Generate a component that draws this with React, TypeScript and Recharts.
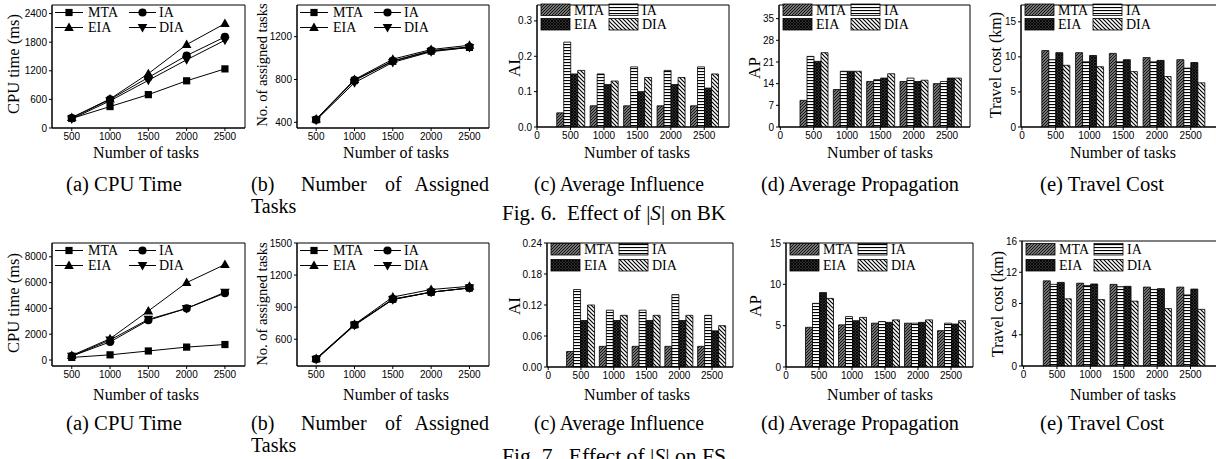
import React from 'react';
import { LineChart, Line, BarChart, Bar, XAxis, YAxis, ReferenceArea } from 'recharts';

// ---------- data ----------
const TASKS = [500, 1000, 1500, 2000, 2500];
const BAR_TICKS = [0, 500, 1000, 1500, 2000, 2500];
const SERIES = ['MTA', 'IA', 'EIA', 'DIA'];

// Fig. 6 (BK)
const bkCpuMTA = [200, 450, 700, 990, 1240];
const bkCpuIA = [210, 600, 1060, 1520, 1910];
const bkCpuEIA = [220, 610, 1140, 1750, 2190];
const bkCpuDIA = [190, 570, 1000, 1430, 1840];

const bkAsgMTA = [425, 790, 970, 1065, 1100];
const bkAsgIA = [425, 795, 975, 1070, 1105];
const bkAsgEIA = [430, 800, 990, 1080, 1120];
const bkAsgDIA = [420, 770, 960, 1060, 1100];

const bkAiMTA = [0.04, 0.06, 0.06, 0.06, 0.06];
const bkAiIA = [0.24, 0.15, 0.17, 0.16, 0.17];
const bkAiEIA = [0.15, 0.12, 0.10, 0.12, 0.11];
const bkAiDIA = [0.16, 0.13, 0.14, 0.14, 0.15];

const bkApMTA = [8.6, 12.1, 14.7, 14.7, 14.0];
const bkApIA = [22.8, 18.0, 15.3, 15.8, 14.7];
const bkApEIA = [21.2, 18.0, 15.8, 14.7, 15.8];
const bkApDIA = [24.0, 18.0, 17.2, 15.1, 15.8];

const bkTcMTA = [10.9, 10.6, 10.5, 9.9, 9.6];
const bkTcIA = [9.6, 9.3, 9.3, 9.3, 8.4];
const bkTcEIA = [10.6, 10.2, 9.6, 9.5, 9.2];
const bkTcDIA = [8.8, 8.6, 7.9, 7.2, 6.3];

// Fig. 7 (FS)
const fsCpuMTA = [200, 400, 700, 1000, 1200];
const fsCpuIA = [300, 1400, 3080, 4000, 5180];
const fsCpuEIA = [350, 1650, 3800, 6000, 7400];
const fsCpuDIA = [300, 1550, 3150, 4000, 5250];

const fsAsgMTA = [415, 735, 975, 1040, 1080];
const fsAsgIA = [415, 735, 975, 1040, 1080];
const fsAsgEIA = [420, 740, 995, 1065, 1095];
const fsAsgDIA = [410, 730, 970, 1040, 1080];

const fsAiMTA = [0.03, 0.04, 0.04, 0.04, 0.04];
const fsAiIA = [0.15, 0.11, 0.11, 0.14, 0.10];
const fsAiEIA = [0.09, 0.09, 0.09, 0.09, 0.07];
const fsAiDIA = [0.12, 0.10, 0.10, 0.10, 0.08];

const fsApMTA = [4.8, 5.1, 5.3, 5.3, 4.4];
const fsApIA = [7.7, 6.1, 5.5, 5.3, 5.3];
const fsApEIA = [9.0, 5.6, 5.4, 5.4, 5.2];
const fsApDIA = [8.3, 6.0, 5.7, 5.7, 5.6];

const fsTcMTA = [10.9, 10.6, 10.45, 10.1, 10.1];
const fsTcIA = [10.45, 10.3, 10.15, 9.8, 9.1];
const fsTcEIA = [10.7, 10.5, 10.2, 9.9, 9.85];
const fsTcDIA = [8.6, 8.5, 8.3, 7.35, 7.25];

const CPU_TICKS_BK = [0, 600, 1200, 1800, 2400];
const ASG_TICKS_BK = [400, 800, 1200];
const AI_TICKS_BK = [0, 0.1, 0.2, 0.3];
const AP_TICKS_BK = [0, 7, 14, 21, 28, 35];
const TC_TICKS_BK = [0, 5, 10, 15];
const CPU_TICKS_FS = [0, 2000, 4000, 6000, 8000];
const ASG_TICKS_FS = [600, 900, 1200, 1500];
const AI_TICKS_FS = [0, 0.06, 0.12, 0.18, 0.24];
const AP_TICKS_FS = [0, 5, 10, 15];
const TC_TICKS_FS = [0, 4, 8, 12, 16];

// ---------- helpers ----------
const SERIF = '"Liberation Serif", "Times New Roman", Times, serif';
const SANS = '"Liberation Sans", Arial, Helvetica, sans-serif';
const TICK = { fontSize: 10, fill: '#000', fontFamily: SANS };
const AX = { stroke: '#000', strokeWidth: 1 };
const YW = 46;
const XH = 24;
const MT = 4;
const MR = 4;

type Rect = { l: number; t: number; r: number; b: number };

const rows = (m: number[], i: number[], e: number[], d: number[]) =>
  TASKS.map((t, k) => ({ t, MTA: m[k], IA: i[k], EIA: e[k], DIA: d[k] }));

const SHAPES: Record<string, string> = { MTA: 'square', IA: 'circle', EIA: 'up', DIA: 'down' };

function marker(shape: string, cx: number, cy: number, key?: string) {
  if (shape === 'square') return <rect key={key} x={cx - 3.6} y={cy - 3.6} width={7.2} height={7.2} fill="#000" />;
  if (shape === 'circle') return <circle key={key} cx={cx} cy={cy} r={4.1} fill="#000" />;
  if (shape === 'up')
    return <path key={key} d={`M${cx},${cy - 5} L${cx + 4.8},${cy + 3.5} L${cx - 4.8},${cy + 3.5} Z`} fill="#000" />;
  return <path key={key} d={`M${cx},${cy + 5} L${cx + 4.8},${cy - 3.5} L${cx - 4.8},${cy - 3.5} Z`} fill="#000" />;
}

function patternDefs(p: string) {
  return (
    <defs>
      <pattern id={`${p}MTA`} width={3} height={3} patternUnits="userSpaceOnUse">
        <rect width={3} height={3} fill="#737373" />
        <path d="M0,3 L3,0 M-1,1 L1,-1 M2,4 L4,2" stroke="#141414" strokeWidth={1} />
      </pattern>
      <pattern id={`${p}IA`} width={3} height={3} patternUnits="userSpaceOnUse">
        <rect width={3} height={3} fill="#fff" />
        <rect y={1} width={3} height={1.1} fill="#000" />
      </pattern>
      <pattern id={`${p}EIA`} width={3} height={3} patternUnits="userSpaceOnUse">
        <rect width={3} height={3} fill="#2e2e2e" />
        <path d="M0,3 L3,0 M0,0 L3,3" stroke="#000" strokeWidth={0.8} />
      </pattern>
      <pattern id={`${p}DIA`} width={4} height={4} patternUnits="userSpaceOnUse">
        <rect width={4} height={4} fill="#fff" />
        <path d="M0,0 L4,4 M-1,3 L1,5 M3,-1 L5,1" stroke="#000" strokeWidth={1.2} />
      </pattern>
    </defs>
  );
}

type PlotProps = {
  rect: Rect;
  data: any[];
  xDomain: [number, number];
  yDomain: [number, number];
  yTicks: number[];
  fmt?: (v: number) => string;
  pid?: string;
};

function LinePlot({ rect, data, xDomain, yDomain, yTicks, fmt }: PlotProps) {
  const w = YW + (rect.r - rect.l) + MR;
  const h = MT + (rect.b - rect.t) + XH;
  return (
    <div style={{ position: 'absolute', left: rect.l - YW, top: rect.t - MT, width: w, height: h }}>
      <LineChart width={w} height={h} data={data} margin={{ top: MT, right: MR, bottom: 0, left: 0 }}>
        <XAxis dataKey="t" type="number" domain={xDomain} ticks={TASKS} interval={0} allowDataOverflow
          height={XH} tickSize={3} tick={TICK} axisLine={AX} tickLine={AX} />
        <YAxis type="number" domain={yDomain} ticks={yTicks} interval={0} allowDataOverflow width={YW}
          tickSize={3} tick={TICK} axisLine={AX} tickLine={AX} tickFormatter={fmt} />
        <ReferenceArea x1={xDomain[0]} x2={xDomain[1]} y1={yDomain[0]} y2={yDomain[1]}
          fill="none" stroke="#000" strokeWidth={1} fillOpacity={0} />
        {SERIES.map((s) => (
          <Line key={s} dataKey={s} type="linear" stroke="#000" strokeWidth={1} isAnimationActive={false}
            dot={(p: any) => marker(SHAPES[s], p.cx, p.cy, `${s}-${p.index}`)} activeDot={false} />
        ))}
      </LineChart>
    </div>
  );
}

function BarPlot({ rect, data, xDomain, yDomain, yTicks, fmt, pid }: PlotProps) {
  const w = YW + (rect.r - rect.l) + MR;
  const h = MT + (rect.b - rect.t) + XH;
  return (
    <div style={{ position: 'absolute', left: rect.l - YW, top: rect.t - MT, width: w, height: h }}>
      <BarChart width={w} height={h} data={data} margin={{ top: MT, right: MR, bottom: 0, left: 0 }} barGap={0}>
        {patternDefs(pid || 'p')}
        <XAxis dataKey="t" type="number" domain={xDomain} ticks={BAR_TICKS} interval={0} allowDataOverflow
          height={XH} tickSize={3} tick={TICK} axisLine={AX} tickLine={AX} />
        <YAxis type="number" domain={yDomain} ticks={yTicks} interval={0} allowDataOverflow width={YW}
          tickSize={3} tick={TICK} axisLine={AX} tickLine={AX} tickFormatter={fmt} />
        {SERIES.map((s) => (
          <Bar key={s} dataKey={s} fill={`url(#${pid}${s})`} stroke="#000" strokeWidth={0.8} barSize={7}
            isAnimationActive={false} />
        ))}
        <ReferenceArea x1={xDomain[0]} x2={xDomain[1]} y1={yDomain[0]} y2={yDomain[1]}
          fill="none" stroke="#000" strokeWidth={1} fillOpacity={0} />
      </BarChart>
    </div>
  );
}

// ---------- overlay text / legends ----------
function LineLegend({ l, t }: { l: number; t: number }) {
  const cols = [
    { s0: l + 3, s1: l + 31, tx: l + 36 },
    { s0: l + 77, s1: l + 104, tx: l + 107 },
  ];
  const ys = [t + 7.5, t + 22.5];
  const grid = [['MTA', 'IA'], ['EIA', 'DIA']];
  return (
    <g>
      {grid.map((row, ri) =>
        row.map((name, ci) => {
          const c = cols[ci];
          const y = ys[ri];
          return (
            <g key={name}>
              <line x1={c.s0} x2={c.s1} y1={y} y2={y} stroke="#000" strokeWidth={1} />
              {marker(SHAPES[name], (c.s0 + c.s1) / 2, y)}
              <text x={c.tx} y={y + 4.8} fontFamily={SERIF} fontSize={14} fill="#000">{name}</text>
            </g>
          );
        })
      )}
    </g>
  );
}

function BarLegend({ l, rowsY }: { l: number; rowsY: number[] }) {
  const cols = [
    { bx: l + 4, tx: l + 37 },
    { bx: l + 72, tx: l + 105 },
  ];
  const grid = [['MTA', 'IA'], ['EIA', 'DIA']];
  return (
    <g>
      {grid.map((row, ri) =>
        row.map((name, ci) => {
          const c = cols[ci];
          const y = rowsY[ri];
          return (
            <g key={name}>
              <rect x={c.bx} y={y} width={29} height={11.5} fill={`url(#lg${name})`} stroke="#000" strokeWidth={0.8} />
              <text x={c.tx} y={y + 10.8} fontFamily={SERIF} fontSize={14} fill="#000">{name}</text>
            </g>
          );
        })
      )}
    </g>
  );
}

function VText({ x, y, text, size }: { x: number; y: number; text: string; size: number }) {
  return (
    <text x={x} y={y} transform={`rotate(-90 ${x} ${y})`} textAnchor="middle" dominantBaseline="central"
      fontFamily={SERIF} fontSize={size} fill="#000">{text}</text>
  );
}

function HText({ x, y, text, size, anchor = 'middle', len }: { x: number; y: number; text: string; size: number; anchor?: string; len?: number }) {
  return (
    <text x={x} y={y} textAnchor={anchor as any} fontFamily={SERIF} fontSize={size} fill="#000"
      textLength={len} lengthAdjust={len ? 'spacingAndGlyphs' : undefined}>{text}</text>
  );
}

function Captions({ dy, fig, ds, figY }: { dy: number; fig: string; ds: string; figY: number }) {
  const yb = 191 + dy;
  const fs = 20;
  return (
    <g>
      <HText x={124} y={yb} text="(a) CPU Time" size={fs} len={116} />
      <HText x={251} y={yb} text="(b)" size={fs} anchor="start" />
      <HText x={301} y={yb} text="Number" size={fs} anchor="start" />
      <HText x={385} y={yb} text="of" size={fs} anchor="start" />
      <HText x={489} y={yb} text="Assigned" size={fs} anchor="end" />
      <HText x={251} y={yb + 22} text="Tasks" size={fs} anchor="start" />
      <HText x={619} y={yb} text="(c) Average Influence" size={fs} len={170} />
      <HText x={860} y={yb} text="(d) Average Propagation" size={fs} len={198} />
      <HText x={1102} y={yb} text="(e) Travel Cost" size={fs} len={124} />
      <text x={614} y={figY} textAnchor="middle" fontFamily={SERIF} fontSize={20.5} fill="#000"
        textLength={224} lengthAdjust="spacingAndGlyphs">
        {`Fig. ${fig}.\u00a0\u00a0Effect of |`}
        <tspan fontStyle="italic">S</tspan>
        {`| on ${ds}`}
      </text>
    </g>
  );
}

function Overlay() {
  const xt = [146, 396, 637, 880, 1123];
  return (
    <svg width={1216} height={459} style={{ position: 'absolute', left: 0, top: 0, pointerEvents: 'none' }}>
      {patternDefs('lg')}
      {/* axis titles, top row */}
      <VText x={13} y={64} text="CPU time (ms)" size={16.5} />
      <VText x={262} y={65} text="No. of assigned tasks" size={14.5} />
      <VText x={514} y={68} text="AI" size={17} />
      <VText x={754} y={68} text="AP" size={17} />
      <VText x={995} y={65} text="Travel cost (km)" size={16} />
      {xt.map((x, i) => <HText key={`xt1${i}`} x={x} y={158} text="Number of tasks" size={16} />)}
      {/* axis titles, bottom row */}
      <VText x={13} y={303} text="CPU time (ms)" size={16.5} />
      <VText x={262} y={304} text="No. of assigned tasks" size={14.5} />
      <VText x={514} y={306} text="AI" size={17} />
      <VText x={755} y={306} text="AP" size={17} />
      <VText x={997} y={304} text="Travel cost (km)" size={16} />
      {xt.map((x, i) => <HText key={`xt2${i}`} x={x} y={400} text="Number of tasks" size={16} />)}
      {/* legends */}
      <LineLegend l={52} t={5} />
      <LineLegend l={297} t={5} />
      <BarLegend l={537} rowsY={[4, 18.5]} />
      <BarLegend l={779} rowsY={[4, 18.5]} />
      <BarLegend l={1021} rowsY={[4, 18.5]} />
      <LineLegend l={52} t={243} />
      <LineLegend l={297} t={243} />
      <BarLegend l={547} rowsY={[243.5, 259.5]} />
      <BarLegend l={786} rowsY={[243.5, 259.5]} />
      <BarLegend l={1022} rowsY={[243.5, 259.5]} />
      <Captions dy={0} fig="6" ds="BK" figY={220} />
      <Captions dy={239} fig="7" ds="FS" figY={463} />
    </svg>
  );
}

const f1 = (v: number) => v.toFixed(1);
const f2 = (v: number) => v.toFixed(2);

export default function App() {
  return (
    <div style={{ position: 'absolute', left: 0, top: 0, width: 1216, height: 459, overflow: 'hidden', background: '#fff' }}>
      {/* Fig. 6 */}
      <LinePlot rect={{ l: 52, t: 5, r: 245, b: 128 }} data={rows(bkCpuMTA, bkCpuIA, bkCpuEIA, bkCpuDIA)}
        xDomain={[242, 2762]} yDomain={[0, 2580]} yTicks={CPU_TICKS_BK} />
      <LinePlot rect={{ l: 297, t: 5, r: 489, b: 128 }} data={rows(bkAsgMTA, bkAsgIA, bkAsgEIA, bkAsgDIA)}
        xDomain={[250, 2755]} yDomain={[347, 1496]} yTicks={ASG_TICKS_BK} />
      <BarPlot pid="c1" rect={{ l: 537, t: 5, r: 729, b: 127 }} data={rows(bkAiMTA, bkAiIA, bkAiEIA, bkAiDIA)}
        xDomain={[0, 2870]} yDomain={[0, 0.345]} yTicks={AI_TICKS_BK} fmt={f1} />
      <BarPlot pid="d1" rect={{ l: 779, t: 5, r: 970, b: 127 }} data={rows(bkApMTA, bkApIA, bkApEIA, bkApDIA)}
        xDomain={[-20, 2845]} yDomain={[0, 39.4]} yTicks={AP_TICKS_BK} />
      <BarPlot pid="e1" rect={{ l: 1021, t: 5, r: 1219, b: 127 }} data={rows(bkTcMTA, bkTcIA, bkTcEIA, bkTcDIA)}
        xDomain={[-14, 2919]} yDomain={[0, 17.4]} yTicks={TC_TICKS_BK} />
      {/* Fig. 7 */}
      <LinePlot rect={{ l: 52, t: 243, r: 245, b: 366 }} data={rows(fsCpuMTA, fsCpuIA, fsCpuEIA, fsCpuDIA)}
        xDomain={[242, 2762]} yDomain={[-465, 9070]} yTicks={CPU_TICKS_FS} />
      <LinePlot rect={{ l: 297, t: 243, r: 489, b: 366 }} data={rows(fsAsgMTA, fsAsgIA, fsAsgEIA, fsAsgDIA)}
        xDomain={[250, 2755]} yDomain={[350, 1500]} yTicks={ASG_TICKS_FS} />
      <BarPlot pid="c2" rect={{ l: 547, t: 243, r: 733, b: 367 }} data={rows(fsAiMTA, fsAiIA, fsAiEIA, fsAiDIA)}
        xDomain={[-18, 2820]} yDomain={[0, 0.24]} yTicks={AI_TICKS_FS} fmt={f2} />
      <BarPlot pid="d2" rect={{ l: 786, t: 243, r: 973, b: 367 }} data={rows(fsApMTA, fsApIA, fsApEIA, fsApDIA)}
        xDomain={[0, 2833]} yDomain={[0, 15]} yTicks={AP_TICKS_FS} />
      <BarPlot pid="e2" rect={{ l: 1022, t: 241, r: 1219, b: 366 }} data={rows(fsTcMTA, fsTcIA, fsTcEIA, fsTcDIA)}
        xDomain={[-24, 2927]} yDomain={[0, 16]} yTicks={TC_TICKS_FS} />
      <Overlay />
    </div>
  );
}
